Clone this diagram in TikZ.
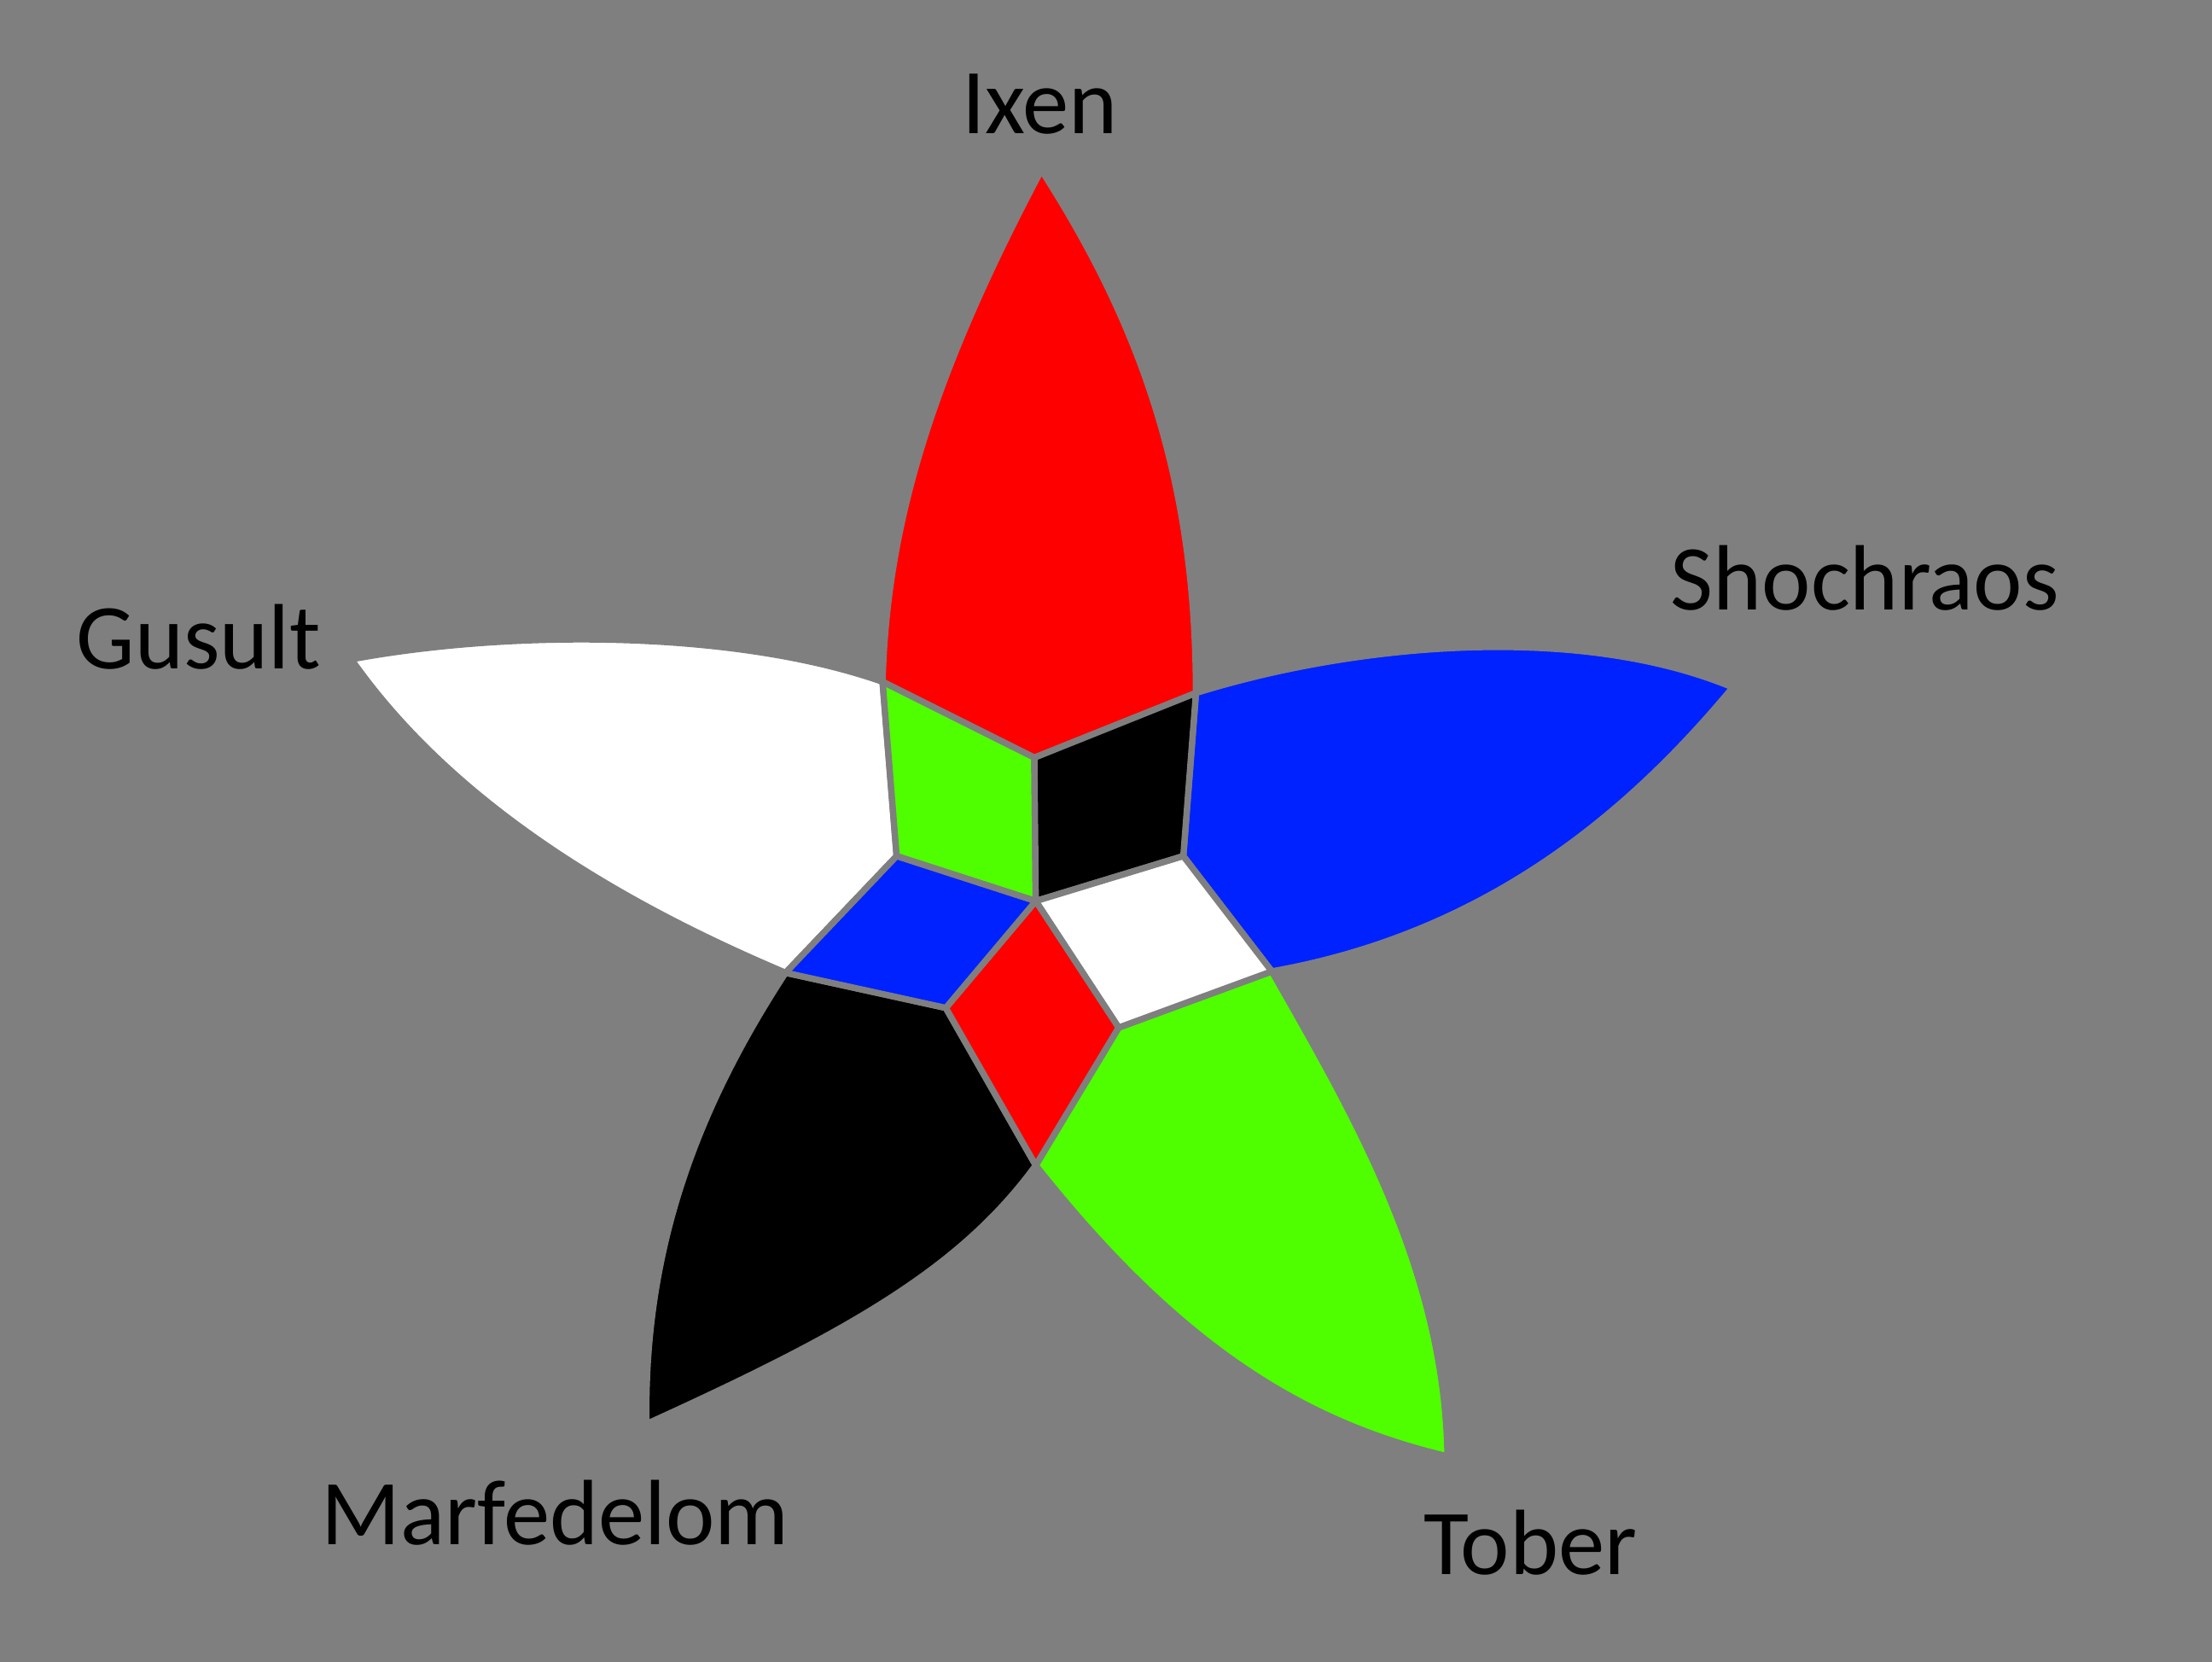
\documentclass[tikz,border=0pt]{standalone}
\usepackage{fontspec}
\setmainfont{Carlito}
\definecolor{bggray}{HTML}{7F7F7F}
\definecolor{pred}{HTML}{FF0000}
\definecolor{pgreen}{HTML}{4FFF00}
\definecolor{pblue}{HTML}{0022FF}
\begin{document}
\begin{tikzpicture}[x=1bp,y=-1bp,
  piece/.style={draw=bggray,line width=4.5bp,line join=miter},
  lbl/.style={anchor=base,inner sep=0pt,font=\fontsize{66bp}{79bp}\selectfont,text=black}]
\fill[bggray] (-3,-3) rectangle (1571,1179);
\useasboundingbox (0,0) rectangle (1568,1176);
% center and junctions
\coordinate (C) at (734,638);
\coordinate (J1) at (625,482);
\coordinate (J2) at (848,490);
\coordinate (J3) at (902,688);
\coordinate (J4) at (734,826);
\coordinate (J5) at (556,689);
\coordinate (M1) at (733,536);
\coordinate (M2) at (839,606);
\coordinate (M3) at (793,728);
\coordinate (M4) at (670,714);
\coordinate (M5) at (635,606);
\coordinate (T1) at (738,118);
\coordinate (T2) at (1230,486);
\coordinate (T3) at (1027,1033);
\coordinate (T4) at (457,1010);
\coordinate (T5) at (247,466);
% petals
\path[piece,fill=pred] (J1) .. controls (628,370) and (660,265) .. (T1)
  .. controls (810,230) and (848,340) .. (J2) -- (M1) -- cycle;
\path[piece,fill=pblue] (J2) .. controls (960,455) and (1120,440) .. (T2)
  .. controls (1160,570) and (1060,660) .. (J3) -- (M2) -- cycle;
\path[piece,fill=pgreen] (J3) .. controls (960,790) and (1025,900) .. (T3)
  .. controls (930,1010) and (840,960) .. (J4) -- (M3) -- cycle;
\path[piece,fill=black] (J4) .. controls (680,900) and (600,945) .. (T4)
  .. controls (455,890) and (490,790) .. (J5) -- (M4) -- cycle;
\path[piece,fill=white] (J5) .. controls (440,640) and (320,570) .. (T5)
  .. controls (360,445) and (520,445) .. (J1) -- (M5) -- cycle;
% inner quadrilaterals
\path[piece,fill=pgreen] (J1) -- (M1) -- (C) -- (M5) -- cycle;
\path[piece,fill=black] (M1) -- (J2) -- (M2) -- (C) -- cycle;
\path[piece,fill=white] (C) -- (M2) -- (J3) -- (M3) -- cycle;
\path[piece,fill=pred] (C) -- (M3) -- (J4) -- (M4) -- cycle;
\path[piece,fill=pblue] (C) -- (M4) -- (J5) -- (M5) -- cycle;
% labels
\node[lbl] (ixen) at (737,92) {Ixen};
\node[lbl] (shoch) at (1324,431) {Shochraos};
\node[lbl] (gus) at (138.5,473) {Gusult};
\node[lbl] (marf) at (392,1096) {Marfedelom};
\node[lbl] (tober) at (1086,1117) {Tober};
\end{tikzpicture}
\end{document}
